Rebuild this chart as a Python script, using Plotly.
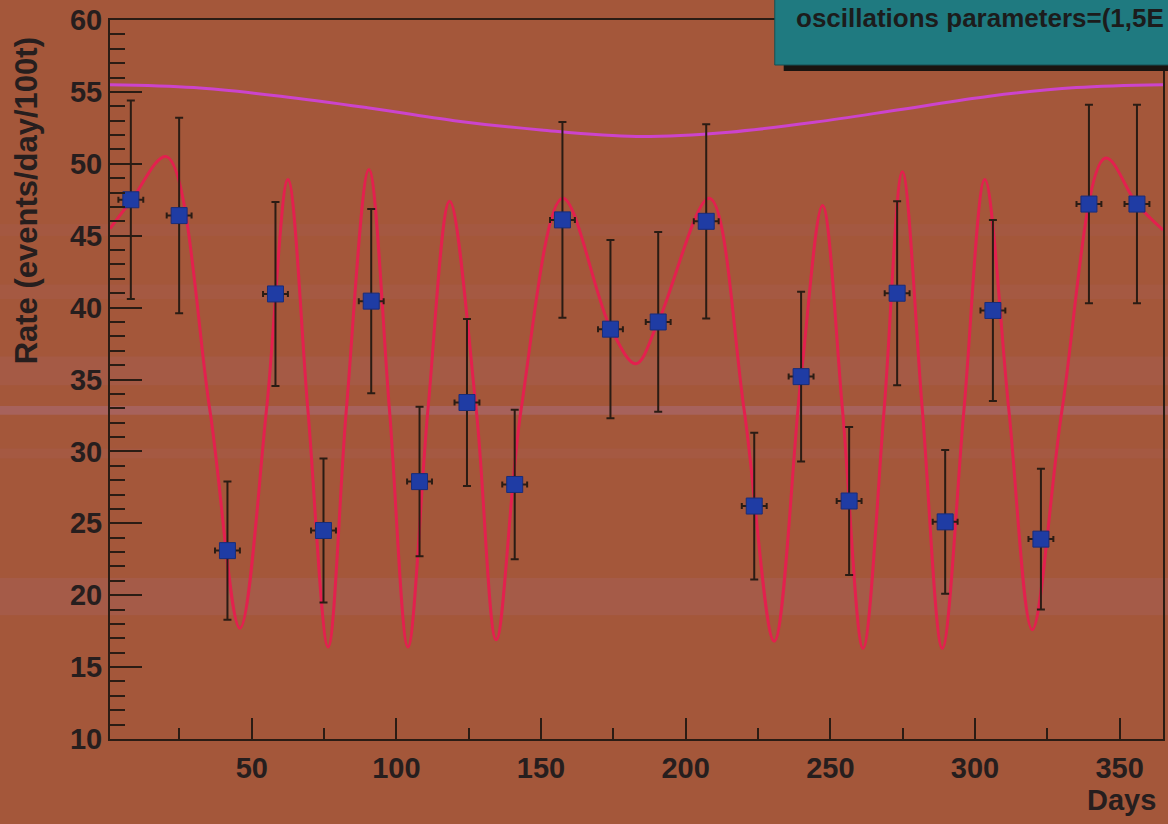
import plotly.graph_objects as go

# ---------------- data ----------------
days = [8.2, 24.9, 41.6, 58.2, 74.8, 91.3, 108.0, 124.4, 140.9, 157.4, 174.0,
        190.5, 207.1, 223.7, 239.9, 256.5, 273.1, 289.7, 306.2, 322.8, 339.4, 356.0]
rate = [47.5, 46.4, 23.1, 40.95, 24.5, 40.45, 27.9, 33.4, 27.7, 46.1, 38.5,
        39.0, 46.0, 26.2, 35.2, 26.55, 41.0, 25.1, 39.8, 23.9, 47.2, 47.2]
rate_err = [6.9, 6.8, 4.8, 6.4, 5.0, 6.4, 5.2, 5.8, 5.2, 6.8, 6.2,
            6.25, 6.75, 5.1, 5.9, 5.15, 6.4, 5.0, 6.3, 4.9, 6.9, 6.9]
day_err = [4.3] * len(days)

# oscillation fit (red) - key points
fit_x = [1, 8.2, 20.5, 35.5, 45.9, 55.1, 62.5, 69.4, 76.4, 82.7, 90.5, 97.6, 104.0,
         110.9, 118.4, 127.6, 134.5, 143.1, 157.5, 174.0, 182.8, 190.5, 208.2, 220.2,
         230.6, 239.9, 247.3, 254.2, 261.3, 268.6, 274.9, 281.8, 288.7, 296.2, 303.4,
         311.7, 319.8, 330.1, 345.1, 356.0, 365]
fit_y = [45.5, 47.4, 50.5, 32.9, 17.7, 32.9, 48.9, 32.9, 16.4, 32.9, 49.6, 32.9, 16.4,
         32.9, 47.4, 32.9, 16.9, 32.9, 47.6, 38.6, 36.1, 39.0, 47.6, 32.9,
         16.8, 35.2, 47.1, 32.9, 16.3, 32.9, 49.45, 32.9, 16.3, 32.9, 48.9,
         32.9, 17.6, 32.9, 50.4, 47.2, 45.4]

# no-oscillation expectation (magenta)
noosc_x = [1, 30, 60, 90, 120, 150, 183, 215, 245, 275, 305, 335, 365]
noosc_y = [55.5, 55.3, 54.7, 53.9, 53.0, 52.35, 51.9, 52.2, 52.9, 53.8, 54.7, 55.3, 55.5]

# faint horizontal bands of the scanned background (value ranges)
band_lo = [32.55, 18.6, 34.6, 40.6, 29.5, 45.0]
band_hi = [33.15, 21.2, 36.6, 41.6, 30.2, 45.8]
band_op = [0.32, 0.14, 0.10, 0.08, 0.08, 0.07]

legend_text = "oscillations parameters=(1,5E"

BG = "#a4573a"
AX = "#2a1c14"
TXT = "#261e1e"
FONT = "Liberation Sans"

fig = go.Figure()

fig.add_trace(go.Scatter(x=noosc_x, y=noosc_y, mode="lines",
                         line=dict(color="#cc44cc", width=3, shape="spline"),
                         hoverinfo="skip", showlegend=False))
fig.add_trace(go.Scatter(x=fit_x, y=fit_y, mode="lines",
                         line=dict(color="#e3204e", width=3, shape="spline", smoothing=1.0),
                         hoverinfo="skip", showlegend=False))
fig.add_trace(go.Scatter(
    x=days, y=rate, mode="markers",
    marker=dict(symbol="square", size=16, color="#1f3ca4",
                line=dict(color="#1a2d78", width=1)),
    error_y=dict(type="data", array=rate_err, color=AX, thickness=2, width=4),
    error_x=dict(type="data", array=day_err, color=AX, thickness=2, width=3),
    showlegend=False))

shapes = []
for lo, hi, op in zip(band_lo, band_hi, band_op):
    shapes.append(dict(type="rect", xref="paper", yref="y", x0=-0.2, x1=1.2,
                       y0=lo, y1=hi, fillcolor=f"rgba(175,120,165,{op})",
                       line=dict(width=0), layer="below"))
# legend box (shadow + teal box)
shapes.append(dict(type="rect", xref="paper", yref="paper", x0=0.6398, x1=1.2,
                   y0=0.929, y1=1.05, fillcolor="#1a1410", line=dict(width=0), layer="above"))
shapes.append(dict(type="rect", xref="paper", yref="paper", x0=0.6313, x1=1.2,
                   y0=0.9374, y1=1.05, fillcolor="#1f7a80", line=dict(color="#174f52", width=1),
                   layer="above"))

annotations = [
    dict(text=legend_text, xref="paper", yref="paper", x=0.6493, y=1.003,
         xanchor="left", yanchor="middle", showarrow=False,
         font=dict(family=FONT, size=26, color="#1c1c1c", weight="bold")),
    dict(text="Rate (events/day/100t)", xref="paper", yref="paper", x=-0.0796, y=0.748,
         xanchor="center", yanchor="middle", textangle=-90, showarrow=False,
         font=dict(family=FONT, size=31, color=TXT, weight="bold")),
    dict(text="Days", xref="paper", yref="paper", x=0.9953, y=-0.085,
         xanchor="right", yanchor="middle", showarrow=False,
         font=dict(family=FONT, size=29, color=TXT, weight="bold")),
]

fig.update_layout(
    width=1168, height=824,
    margin=dict(l=110, r=3, t=20, b=85),
    paper_bgcolor=BG, plot_bgcolor=BG,
    shapes=shapes, annotations=annotations,
    xaxis=dict(range=[1, 365], tickvals=[50, 100, 150, 200, 250, 300, 350],
               ticks="inside", ticklen=21, tickwidth=2, tickcolor=AX,
               minor=dict(dtick=25, tick0=0, ticks="inside", ticklen=11, tickwidth=2, tickcolor=AX),
               showline=True, linecolor=AX, linewidth=2, mirror=True,
               showgrid=False, zeroline=False, ticklabelstandoff=2,
               tickfont=dict(family=FONT, size=29, color=TXT, weight="bold")),
    yaxis=dict(range=[10, 60], tick0=10, dtick=5,
               ticks="inside", ticklen=32, tickwidth=2, tickcolor=AX,
               minor=dict(dtick=1, ticks="inside", ticklen=15, tickwidth=2, tickcolor=AX),
               showline=True, linecolor=AX, linewidth=2, mirror=True,
               showgrid=False, zeroline=False, ticklabelstandoff=0,
               tickfont=dict(family=FONT, size=29, color=TXT, weight="bold")),
)

fig.write_html("out.html", config={"displayModeBar": False},
               post_script="document.body.style.margin='0';document.body.style.overflow='hidden';")
